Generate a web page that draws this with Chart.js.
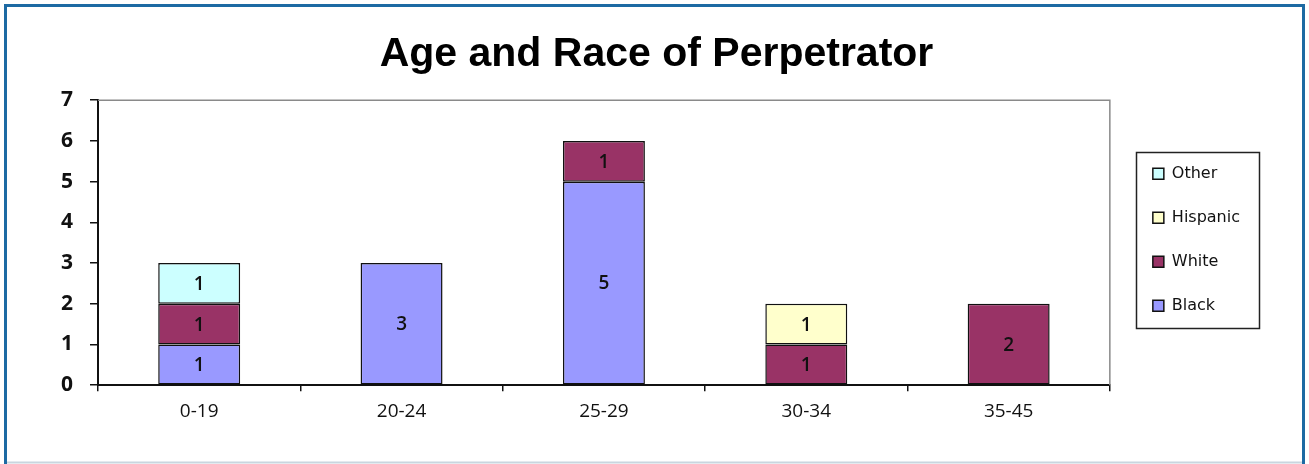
<!DOCTYPE html>
<html>
<head>
<meta charset="utf-8">
<script src="https://cdn.jsdelivr.net/npm/chart.js@4.4.1/dist/chart.umd.min.js"></script>
<style>
  html, body { margin: 0; padding: 0; background: #fff; }
  #wrap { position: absolute; left: 0; top: 0; width: 1309px; height: 464px; }
</style>
</head>
<body>
<div id="wrap"><canvas id="c" width="1309" height="464"></canvas></div>
<script>
const categories = ['0-19', '20-24', '25-29', '30-34', '35-45'];
const blackValues    = [1, 3, 5, null, null];
const whiteValues    = [1, null, 1, 1, 2];
const hispanicValues = [null, null, null, 1, null];
const otherValues    = [1, null, null, null, null];
const yTicks = [0, 1, 2, 3, 4, 5, 6, 7];
const titleText = 'Age and Race of Perpetrator';

const framePlugin = {
  id: 'frame',
  beforeDraw(chart) {
    const ctx = chart.ctx;
    ctx.save();
    ctx.fillStyle = '#ffffff';
    ctx.fillRect(0, 0, chart.width, chart.height);
    ctx.strokeStyle = '#c9d6df';
    ctx.lineWidth = 2;
    ctx.beginPath();
    ctx.moveTo(5, 462.5); ctx.lineTo(1304, 462.5);
    ctx.stroke();
    ctx.strokeStyle = '#1d6aa3';
    ctx.lineWidth = 3;
    ctx.beginPath();
    ctx.moveTo(5.5, 464); ctx.lineTo(5.5, 5.5); ctx.lineTo(1303.5, 5.5); ctx.lineTo(1303.5, 464);
    ctx.stroke();
    ctx.restore();
  },
  beforeDatasetsDraw(chart) {
    const a = chart.chartArea, ctx = chart.ctx;
    ctx.save();
    ctx.strokeStyle = '#8a8a8a';
    ctx.lineWidth = 1.5;
    ctx.beginPath();
    ctx.moveTo(a.left, a.top); ctx.lineTo(a.right, a.top); ctx.lineTo(a.right, a.bottom);
    ctx.stroke();
    ctx.restore();
  },
  afterLayout(chart) {
    const lg = chart.legend;
    if (lg) {
      lg.left += 15; lg.right += 15;
      lg.top -= 3; lg.bottom -= 3;
    }
    const tb = chart.titleBlock;
    if (tb) {
      tb.left += 17; tb.right += 17;
    }
  },
  afterDraw(chart) {
    const lg = chart.legend, ctx = chart.ctx;
    if (!lg || !lg.legendHitBoxes || !lg.legendHitBoxes.length) return;
    const hb = lg.legendHitBoxes;
    let l = Infinity, r = -Infinity, t = Infinity, b = -Infinity;
    hb.forEach(h => {
      l = Math.min(l, h.left); r = Math.max(r, h.left + h.width);
      t = Math.min(t, h.top); b = Math.max(b, h.top + h.height);
    });
    ctx.save();
    ctx.strokeStyle = '#222';
    ctx.lineWidth = 1.5;
    ctx.strokeRect(Math.round(l - 17) + 0.5, Math.round(t - 14) + 0.5, Math.round(r - l + 36), Math.round(b - t + 28));
    ctx.restore();
  },
  afterDatasetsDraw(chart) {
    const ctx = chart.ctx;
    ctx.save();
    ctx.fillStyle = '#111';
    ctx.font = '600 19px "Open Sans"';
    ctx.textAlign = 'center';
    ctx.textBaseline = 'middle';
    chart.data.datasets.forEach((ds, i) => {
      const meta = chart.getDatasetMeta(i);
      meta.data.forEach((el, j) => {
        const v = ds.data[j];
        if (v === null || v === undefined) return;
        ctx.fillText(String(v), el.x, (el.y + el.base) / 2 + 1);
      });
    });
    ctx.restore();
  }
};

const mk = (label, data, color) => ({
  label, data,
  backgroundColor: color,
  borderColor: '#111',
  borderWidth: 1.5,
  borderSkipped: false,
  categoryPercentage: 1.0,
  barPercentage: 0.405
});

function build() {
  new Chart(document.getElementById('c'), {
    type: 'bar',
    data: {
      labels: categories,
      datasets: [
        mk('Black', blackValues, '#9999FF'),
        mk('White', whiteValues, '#993366'),
        mk('Hispanic', hispanicValues, '#FFFFCC'),
        mk('Other', otherValues, '#CCFFFF')
      ]
    },
    plugins: [framePlugin],
    options: {
      responsive: false,
      animation: false,
      devicePixelRatio: 1,
      layout: { padding: { left: 44, right: 74, top: 8, bottom: 32 } },
      plugins: {
        title: {
          display: true,
          text: titleText,
          color: '#000',
          font: { family: '"Liberation Sans", Arial, sans-serif', size: 41, weight: 'bold', lineHeight: 1.2 },
          padding: { top: 22, bottom: 21 }
        },
        legend: {
          display: true,
          position: 'right',
          fullSize: false,
          reverse: true,
          labels: {
            boxWidth: 11,
            boxHeight: 11,
            padding: 28,
            color: '#111',
            font: { family: '"DejaVu Sans"', size: 16, lineHeight: 1 }
          }
        },
        tooltip: { enabled: false }
      },
      scales: {
        x: {
          stacked: true,
          grid: { display: true, drawOnChartArea: false, drawTicks: true, tickLength: 6, color: '#111', lineWidth: 1.5, offset: true },
          border: { display: true, color: '#111', width: 2 },
          ticks: { color: '#111', font: { family: '"Open Sans"', size: 19 }, padding: 9 }
        },
        y: {
          stacked: true,
          min: 0, max: 7,
          afterBuildTicks(scale) { scale.ticks = yTicks.map(v => ({ value: v })); },
          grid: { display: true, drawOnChartArea: false, drawTicks: true, tickLength: 8, color: '#111', lineWidth: 1.5 },
          border: { display: true, color: '#111', width: 2 },
          ticks: { color: '#111', font: { family: '"Open Sans"', size: 21, weight: 'bold' }, padding: 17 }
        }
      }
    }
  });
}

Promise.all([
  document.fonts.load('bold 21px "Open Sans"'),
  document.fonts.load('600 19px "Open Sans"'),
  document.fonts.load('19px "Open Sans"'),
  document.fonts.load('16px "DejaVu Sans"'),
  document.fonts.load('bold 41px "Liberation Sans"')
]).then(build, build);
</script>
</body>
</html>
